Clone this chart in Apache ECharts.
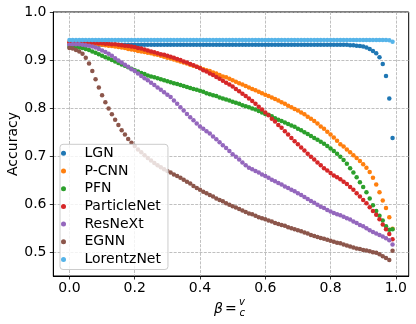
<!DOCTYPE html>
<html><head><meta charset="utf-8">
<script src="https://cdn.jsdelivr.net/npm/echarts@6/dist/echarts.min.js"></script>
<style>html,body{margin:0;padding:0;background:#fff}#c{width:416px;height:324px}</style>
</head><body><div id="c"></div>
<script>
const beta = [
0.00,0.01,0.02,0.03,0.04,0.05,0.06,0.07,0.08,0.09,
0.10,0.11,0.12,0.13,0.14,0.15,0.16,0.17,0.18,0.19,
0.20,0.21,0.22,0.23,0.24,0.25,0.26,0.27,0.28,0.29,
0.30,0.31,0.32,0.33,0.34,0.35,0.36,0.37,0.38,0.39,
0.40,0.41,0.42,0.43,0.44,0.45,0.46,0.47,0.48,0.49,
0.50,0.51,0.52,0.53,0.54,0.55,0.56,0.57,0.58,0.59,
0.60,0.61,0.62,0.63,0.64,0.65,0.66,0.67,0.68,0.69,
0.70,0.71,0.72,0.73,0.74,0.75,0.76,0.77,0.78,0.79,
0.80,0.81,0.82,0.83,0.84,0.85,0.86,0.87,0.88,0.89,
0.90,0.91,0.92,0.93,0.94,0.95,0.96,0.97,0.98,0.99];
const xTicks = [0.0,0.2,0.4,0.6,0.8,1.0];
const yTicks = [0.5,0.6,0.7,0.8,0.9,1.0];
const names = ['LGN','P-CNN','PFN','ParticleNet','ResNeXt','EGNN','LorentzNet'];
const LGN = [
0.932,0.932,0.932,0.932,0.932,0.932,0.932,0.932,0.932,0.932,
0.932,0.932,0.932,0.932,0.932,0.932,0.932,0.932,0.932,0.932,
0.932,0.932,0.932,0.932,0.932,0.932,0.932,0.932,0.932,0.932,
0.932,0.932,0.932,0.932,0.932,0.932,0.932,0.932,0.932,0.932,
0.932,0.932,0.932,0.932,0.932,0.932,0.932,0.932,0.932,0.932,
0.932,0.932,0.932,0.932,0.932,0.932,0.932,0.932,0.932,0.932,
0.932,0.932,0.932,0.932,0.932,0.932,0.932,0.932,0.932,0.932,
0.932,0.932,0.932,0.932,0.932,0.932,0.932,0.932,0.932,0.932,
0.932,0.932,0.932,0.932,0.932,0.932,0.931,0.931,0.930,0.929,
0.928,0.926,0.923,0.919,0.914,0.906,0.892,0.867,0.820,0.738];
const PCNN = [
0.937,0.937,0.936,0.936,0.936,0.935,0.935,0.934,0.934,0.933,
0.932,0.931,0.930,0.929,0.928,0.927,0.926,0.925,0.923,0.922,
0.921,0.919,0.918,0.917,0.915,0.914,0.912,0.911,0.909,0.907,
0.905,0.903,0.901,0.899,0.897,0.895,0.893,0.890,0.888,0.886,
0.884,0.881,0.879,0.877,0.874,0.872,0.869,0.866,0.864,0.861,
0.858,0.855,0.852,0.849,0.846,0.843,0.840,0.837,0.834,0.831,
0.828,0.825,0.822,0.819,0.816,0.812,0.809,0.805,0.802,0.798,
0.795,0.791,0.787,0.782,0.778,0.773,0.768,0.762,0.757,0.751,
0.745,0.739,0.732,0.725,0.720,0.714,0.708,0.702,0.696,0.690,
0.683,0.676,0.667,0.655,0.641,0.625,0.608,0.592,0.573,0.549];
const PFN = [
0.927,0.927,0.927,0.926,0.925,0.923,0.921,0.918,0.915,0.912,
0.909,0.906,0.903,0.900,0.897,0.894,0.891,0.888,0.885,0.882,
0.879,0.876,0.873,0.871,0.868,0.866,0.864,0.862,0.860,0.858,
0.856,0.854,0.852,0.850,0.848,0.846,0.844,0.842,0.840,0.838,
0.836,0.834,0.831,0.829,0.827,0.825,0.822,0.820,0.818,0.816,
0.813,0.811,0.809,0.806,0.804,0.802,0.799,0.797,0.794,0.791,
0.788,0.786,0.783,0.779,0.776,0.773,0.770,0.767,0.764,0.761,
0.757,0.754,0.750,0.746,0.742,0.738,0.734,0.730,0.726,0.721,
0.716,0.711,0.705,0.699,0.692,0.684,0.675,0.666,0.656,0.646,
0.636,0.625,0.612,0.598,0.586,0.576,0.566,0.554,0.547,0.548];
const ParticleNet = [
0.937,0.937,0.937,0.937,0.937,0.937,0.936,0.936,0.936,0.935,
0.935,0.934,0.934,0.933,0.933,0.932,0.931,0.930,0.929,0.928,
0.927,0.925,0.924,0.922,0.920,0.918,0.916,0.914,0.912,0.911,
0.909,0.907,0.905,0.902,0.900,0.897,0.895,0.892,0.889,0.886,
0.883,0.879,0.876,0.872,0.869,0.865,0.861,0.857,0.853,0.849,
0.845,0.840,0.835,0.830,0.825,0.820,0.815,0.809,0.803,0.797,
0.791,0.785,0.778,0.772,0.765,0.759,0.752,0.745,0.738,0.731,
0.725,0.718,0.712,0.705,0.699,0.693,0.687,0.681,0.675,0.670,
0.665,0.660,0.656,0.652,0.647,0.642,0.636,0.630,0.623,0.616,
0.609,0.602,0.594,0.586,0.578,0.569,0.558,0.548,0.538,0.527];
const ResNeXt = [
0.932,0.933,0.933,0.933,0.932,0.931,0.930,0.928,0.926,0.923,
0.920,0.917,0.913,0.909,0.904,0.899,0.895,0.890,0.886,0.881,
0.877,0.872,0.867,0.862,0.858,0.853,0.848,0.843,0.838,0.833,
0.828,0.823,0.816,0.809,0.802,0.795,0.788,0.781,0.775,0.768,
0.762,0.757,0.752,0.747,0.741,0.735,0.729,0.723,0.717,0.711,
0.704,0.699,0.693,0.687,0.681,0.676,0.673,0.669,0.666,0.662,
0.659,0.655,0.651,0.648,0.644,0.641,0.637,0.634,0.630,0.627,
0.623,0.619,0.615,0.611,0.607,0.603,0.599,0.595,0.592,0.588,
0.585,0.582,0.579,0.577,0.574,0.571,0.568,0.564,0.561,0.557,
0.554,0.550,0.546,0.542,0.539,0.536,0.533,0.529,0.525,0.516];
const EGNN = [
0.925,0.924,0.921,0.918,0.913,0.905,0.893,0.877,0.860,0.843,
0.827,0.812,0.799,0.787,0.776,0.765,0.754,0.745,0.736,0.728,
0.721,0.714,0.708,0.702,0.696,0.691,0.686,0.681,0.677,0.673,
0.669,0.666,0.662,0.659,0.655,0.651,0.647,0.643,0.638,0.634,
0.630,0.626,0.623,0.619,0.616,0.612,0.609,0.606,0.602,0.599,
0.596,0.593,0.590,0.587,0.584,0.581,0.579,0.576,0.573,0.571,
0.569,0.566,0.564,0.561,0.559,0.557,0.555,0.552,0.550,0.548,
0.546,0.544,0.541,0.539,0.536,0.534,0.532,0.530,0.528,0.526,
0.524,0.522,0.520,0.519,0.516,0.514,0.512,0.510,0.508,0.507,
0.505,0.504,0.502,0.500,0.499,0.496,0.492,0.488,0.484,0.503];
const LorentzNet = [
0.942,0.942,0.942,0.942,0.942,0.942,0.942,0.942,0.942,0.942,
0.942,0.942,0.942,0.942,0.942,0.942,0.942,0.942,0.942,0.942,
0.942,0.942,0.942,0.942,0.942,0.942,0.942,0.942,0.942,0.942,
0.942,0.942,0.942,0.942,0.942,0.942,0.942,0.942,0.942,0.942,
0.942,0.942,0.942,0.942,0.942,0.942,0.942,0.942,0.942,0.942,
0.942,0.942,0.942,0.942,0.942,0.942,0.942,0.942,0.942,0.942,
0.942,0.942,0.942,0.942,0.942,0.942,0.942,0.942,0.942,0.942,
0.942,0.942,0.942,0.942,0.942,0.942,0.942,0.942,0.942,0.942,
0.942,0.942,0.942,0.942,0.942,0.942,0.942,0.942,0.942,0.942,
0.942,0.942,0.942,0.942,0.942,0.942,0.942,0.942,0.941,0.938];

const values = [LGN, PCNN, PFN, ParticleNet, ResNeXt, EGNN, LorentzNet];
const colors = ['#1f77b4','#ff7f0e','#2ca02c','#d62728','#9467bd','#8c564b','#56b4e9'];
const F = 'DejaVu Sans';
const chart = echarts.init(document.getElementById('c'), null, {renderer:'canvas'});
const gridLine = {show:true, lineStyle:{color:'#b0b0b0', width:0.8, type:[3,1.3]}};
chart.setOption({
  animation:false,
  backgroundColor:'#fff',
  grid:{left:53.3, right:7.3, top:12, bottom:48, show:true, borderColor:'#000', borderWidth:1, containLabel:false, outerBoundsMode:'none'},
  xAxis:{type:'value', min:-0.0495, max:1.0395,
    axisLine:{show:true, onZero:false, lineStyle:{color:'#000', width:1}},
    axisTick:{show:true, length:3.5, lineStyle:{color:'#000', width:0.8}, customValues:xTicks},
    axisLabel:{color:'#000', fontFamily:F, fontSize:14, margin:5, customValues:xTicks, formatter:v=>v.toFixed(1)},
    splitLine:gridLine},
  yAxis:{type:'value', min:0.4507, max:1.0,
    name:'Accuracy', nameLocation:'middle', nameGap:33, nameRotate:90, nameMoveOverlap:false,
    nameTextStyle:{color:'#000', fontFamily:F, fontSize:14},
    axisLine:{show:true, onZero:false, lineStyle:{color:'#000', width:1}},
    axisTick:{show:true, length:3.5, lineStyle:{color:'#000', width:0.8}, customValues:yTicks},
    axisLabel:{color:'#000', fontFamily:F, fontSize:14, margin:6.8, customValues:yTicks, formatter:v=>v.toFixed(1)},
    splitLine:gridLine},
  legend:{orient:'vertical', left:60, top:144.3, padding:[2,7,3,1], itemGap:3.7,
    itemWidth:32, itemHeight:5, icon:'circle',
    backgroundColor:'rgba(255,255,255,0.8)', borderColor:'#cccccc', borderWidth:1, borderRadius:3,
    textStyle:{color:'#000', fontFamily:F, fontSize:14, lineHeight:14, padding:[0,0,0,0]},
    data:names},
  graphic:[
    {type:'text', left:214, top:302, style:{text:'β', font:'italic 14px "DejaVu Sans"', fill:'#000'}},
    {type:'text', left:225, top:302, style:{text:'=', font:'14px "DejaVu Sans"', fill:'#000'}},
    {type:'text', left:239, top:297, style:{text:'v', font:'italic 10px "DejaVu Sans"', fill:'#000'}},
    {type:'text', left:239.5, top:308, style:{text:'c', font:'italic 10px "DejaVu Sans"', fill:'#000'}}
  ],
  series: names.map((n,i)=>({
    name:n, type:'scatter', symbolSize:4.5,
    itemStyle:{color:colors[i], opacity:1},
    emphasis:{disabled:true},
    data: beta.map((b,j)=>[b, values[i][j]])
  }))
});
</script></body></html>
